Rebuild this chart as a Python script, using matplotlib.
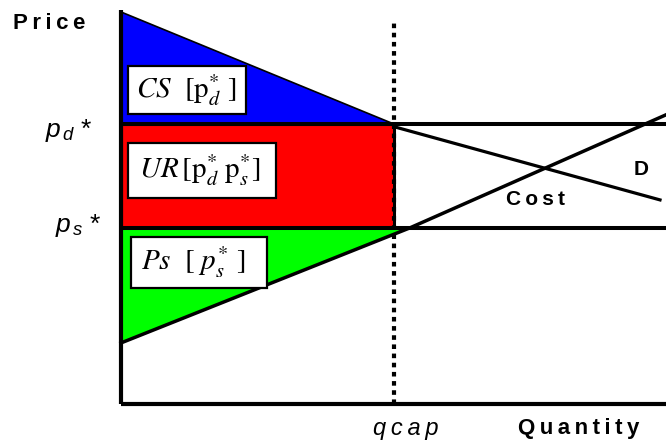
import matplotlib
matplotlib.use("Agg")
import matplotlib.pyplot as plt
from matplotlib.patches import Polygon, Rectangle

plt.rcParams['font.family'] = ['Liberation Sans', 'DejaVu Sans']
plt.rcParams['mathtext.fontset'] = 'custom'
plt.rcParams['mathtext.sf'] = 'Liberation Sans:italic'
plt.rcParams['mathtext.it'] = 'Liberation Serif:italic'
plt.rcParams['mathtext.rm'] = 'Liberation Serif'

# prices / quantities in arbitrary units (axis runs 0..10 on both)
q_max, p_max = 10, 10
p_d_star = 7.11
p_s_star = 4.47
q_cap = 5.0

# consumer surplus triangle (demand above p_d*)
cs_q = [0, 5.0, 0]
cs_p = [9.95, 7.11, 7.11]
# demand beyond the cap
demand_q = [5.03, 9.89]
demand_p = [7.03, 5.18]
# cost (supply) curve
cost_q = [0, 5.3, 10]
cost_p = [1.55, 4.47, 7.34]
# producer surplus triangle
ps_q = [0, 5.3, 0]
ps_p = [4.47, 4.47, 1.55]


def spaced(s):
    # the original labels have loose letter spacing
    return "\u2009".join(s)


fig = plt.figure(figsize=(6.66, 4.43), dpi=100)
ax = fig.add_axes([121 / 666, 39 / 443, 545 / 666, 394 / 443])
ax.set_xlim(0, q_max)
ax.set_ylim(0, p_max)
ax.axis("off")

# shaded areas
ax.add_patch(Polygon(list(zip(cs_q, cs_p)), closed=True, facecolor='#0000ff',
                     edgecolor='black', lw=1.2, zorder=1))
ax.add_patch(Rectangle((0, p_s_star), q_cap, p_d_star - p_s_star, facecolor='#ff0000',
                       edgecolor='black', lw=2.2, zorder=1))
ax.add_patch(Polygon(list(zip(ps_q, ps_p)), closed=True, facecolor='#00ff00',
                     edgecolor='none', zorder=1))

# price levels
ax.plot([0, q_max], [p_d_star, p_d_star], color='black', lw=2.9, zorder=3,
        clip_on=False, solid_capstyle='butt')
ax.plot([0, q_max], [p_s_star, p_s_star], color='black', lw=2.9, zorder=3,
        clip_on=False, solid_capstyle='butt')

# curves
ax.plot(demand_q, demand_p, color='black', lw=2.3, zorder=3)
ax.plot(cost_q, cost_p, color='black', lw=2.5, zorder=3, clip_on=False)

# capacity
ax.plot([q_cap, q_cap], [0, 9.75], color='black', lw=3,
        linestyle=(0, (1.1, 1.1)), dash_capstyle='butt', zorder=4)

# axes
ax.plot([0, 0], [0, p_max], color='black', lw=3, zorder=5, clip_on=False,
        solid_capstyle='butt')
ax.plot([0, q_max], [0, 0], color='black', lw=3, zorder=5, clip_on=False,
        solid_capstyle='butt')

# labelled boxes
boxes = [
    ((0.13, 7.36), 2.16, 1.22, (1.19, 7.97), r"$CS\ \ [\mathrm{p}^{*}_{d}\ ]$"),
    ((0.13, 5.23), 2.71, 1.39, (1.44, 5.94), r"$UR\,[\mathrm{p}^{*}_{d}\ \mathrm{p}^{*}_{s}]$"),
    ((0.18, 2.94), 2.50, 1.30, (1.33, 3.60), r"$Ps\ \ [\ p^{*}_{s}\ ]$"),
]
for (x0, y0), w, h, (tx, ty), label in boxes:
    ax.add_patch(Rectangle((x0, y0), w, h, facecolor='white', edgecolor='black',
                           lw=1.6, zorder=6))
    ax.text(tx, ty, label, ha='center', va='center', fontsize=21, zorder=7,
            math_fontfamily='stix')

# axis labels and annotations
ax.text(-1.32, 9.67, spaced("Price"), ha='center', va='center', fontsize=16,
        fontweight='bold', clip_on=False)
ax.text(-1.39, 6.95, r"$\mathsf{p}_{\,\mathsf{d}}$ *", ha='left', va='center',
        fontsize=19, clip_on=False)
ax.text(-1.21, 4.52, r"$\mathsf{p}_{\,\mathsf{s}}$ *", ha='left', va='center',
        fontsize=19, clip_on=False)
ax.text(9.54, 5.94, "D", ha='center', va='center', fontsize=15, fontweight='bold')
ax.text(7.61, 5.18, spaced("Cost"), ha='center', va='center', fontsize=15,
        fontweight='bold')
ax.text(5.23, -0.61, spaced("qcap"), ha='center', va='center', fontsize=17,
        style='italic', clip_on=False)
ax.text(8.39, -0.61, spaced("Quantity"), ha='center', va='center', fontsize=16,
        fontweight='bold', clip_on=False)

fig.savefig("out.png", dpi=100)
